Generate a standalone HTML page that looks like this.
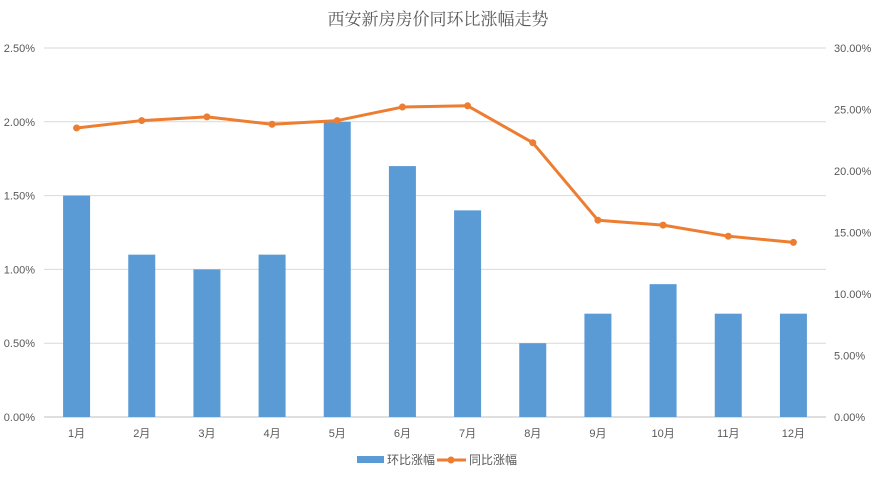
<!DOCTYPE html>
<html><head><meta charset="utf-8"><style>
body{margin:0;background:#fff;}
svg text{font-family:"Liberation Sans","Noto Sans CJK SC",sans-serif;}
</style></head><body>
<svg id="c" width="876" height="477">
<text x="438" y="25" text-anchor="middle" font-size="17" fill="#595959" style="font-family:'Noto Serif CJK SC',serif">西安新房房价同环比涨幅走势</text>
<g id="grid"></g><g id="bars"></g><g id="line"></g><g id="axes"></g>
<g>
<rect x="357" y="456" width="27" height="7" fill="#5b9bd5"/>
<text x="387" y="464" font-size="12" fill="#595959">环比涨幅</text>
<line x1="437" y1="460" x2="466" y2="460" stroke="#ed7d31" stroke-width="3"/>
<circle cx="451" cy="460" r="3.5" fill="#ed7d31"/>
<text x="469" y="464" font-size="12" fill="#595959">同比涨幅</text>
</g>
</svg>
<script>
const categories=["1月","2月","3月","4月","5月","6月","7月","8月","9月","10月","11月","12月"];
const momValues=[1.5,1.1,1.0,1.1,2.0,1.7,1.4,0.5,0.7,0.9,0.7,0.7];
const yoyValues=[23.5,24.1,24.4,23.8,24.1,25.2,25.3,22.3,16.0,15.6,14.7,14.2];
const leftTicks=[0,0.5,1,1.5,2,2.5];
const rightTicks=[0,5,10,15,20,25,30];
const NS="http://www.w3.org/2000/svg";
const L=44,R=826,T=48,B=417;
const xC=i=>L+(i+0.5)*(R-L)/categories.length;
const yL=v=>B-(v/2.5)*(B-T);
const yR=v=>B-(v/30)*(B-T);
function mk(tag,attrs,parent){const e=document.createElementNS(NS,tag);for(const k in attrs)e.setAttribute(k,attrs[k]);document.getElementById(parent).appendChild(e);return e;}
leftTicks.forEach(t=>{
 const g=mk('line',{x1:L,x2:R,y1:yL(t),y2:yL(t),stroke:t===0?'#bfbfbf':'#d9d9d9','stroke-width':1},'grid');
 
 
 const tx=mk('text',{x:35,y:yL(t)+4,'text-anchor':'end','font-size':11,fill:'#595959'},'axes');
 tx.textContent=t.toFixed(2)+'%';
 
 
});
rightTicks.forEach(t=>{
 const tx=mk('text',{x:834,y:yR(t)+4,'font-size':11,fill:'#595959'},'axes');
 tx.textContent=t.toFixed(2)+'%';
 
 
});
const bw=27;
categories.forEach((c,i)=>{
 const r=mk('rect',{x:xC(i)-bw/2,y:yL(momValues[i]),width:bw,height:B-yL(momValues[i]),fill:'#5b9bd5'},'bars');
 
 
 const tx=mk('text',{x:xC(i),y:437,'text-anchor':'middle','font-size':11,fill:'#595959'},'axes');
 tx.textContent=c;
 
 
});
const pts=yoyValues.map((v,i)=>xC(i)+','+yR(v)).join(' ');
const pl=mk('polyline',{points:pts,fill:'none',stroke:'#ed7d31','stroke-width':3,'stroke-linejoin':'round'},'line');


yoyValues.forEach((v,i)=>{
 const c=mk('circle',{cx:xC(i),cy:yR(v),r:3.5,fill:'#ed7d31'},'line');
 
 
});
</script>
</body></html>
